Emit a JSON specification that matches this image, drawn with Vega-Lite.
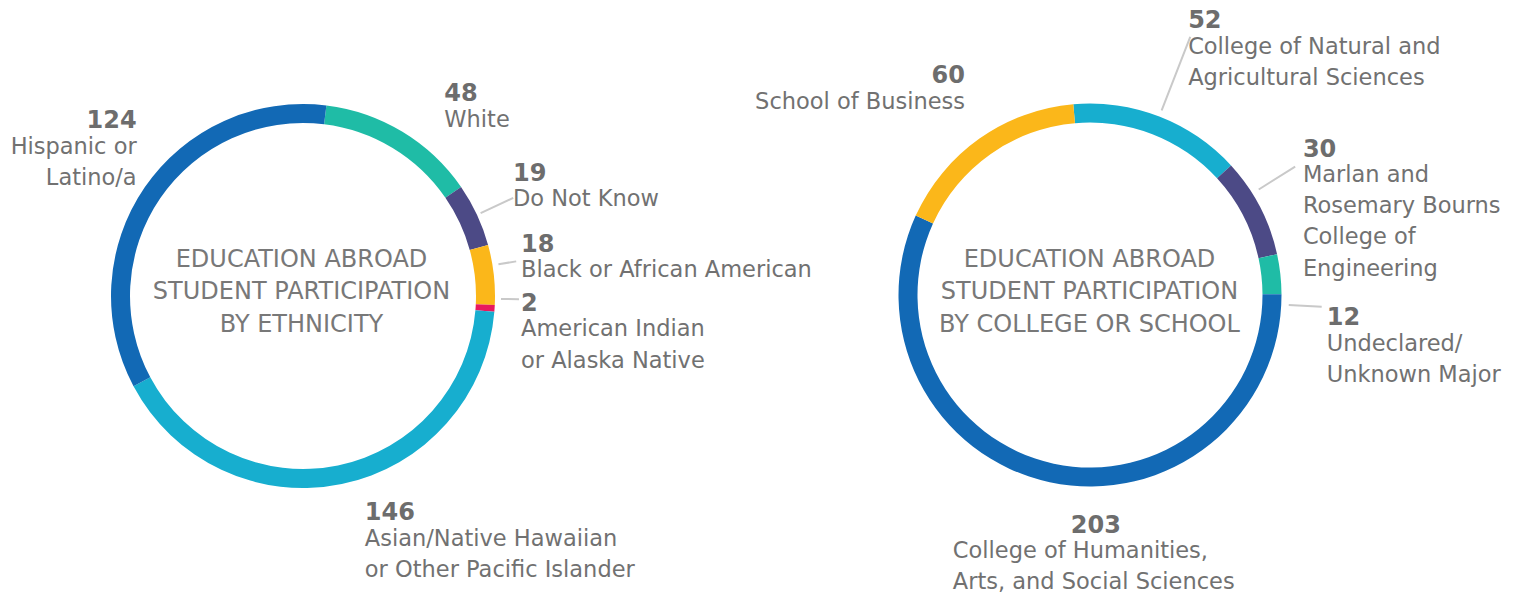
{
  "$schema": "https://vega.github.io/schema/vega-lite/v6.json",
  "padding": 0,
  "background": "white",
  "bounds": "flush",
  "spacing": 54,
  "resolve": {"scale": {"color": "independent", "theta": "independent"}},
  "config": {"view": {"stroke": null}, "text": {"font": "DejaVu Sans"}},
  "hconcat": [
    {
      "width": 606,
      "height": 592,
      "data": {"values": [
        {"cat": "White", "value": 48, "i": 1, "label": "White"},
        {"cat": "Do Not Know", "value": 19, "i": 2, "label": "Do Not Know"},
        {"cat": "Black or African American", "value": 18, "i": 3, "label": "Black or African American"},
        {"cat": "American Indian or Alaska Native", "value": 2, "i": 4, "label": "American Indian\nor Alaska Native"},
        {"cat": "Asian/Native Hawaiian or Other Pacific Islander", "value": 146, "i": 5, "label": "Asian/Native Hawaiian\nor Other Pacific Islander"},
        {"cat": "Hispanic or Latino/a", "value": 124, "i": 6, "label": "Hispanic or\nLatino/a"}
      ]},
      "encoding": {
        "theta": {"field": "value", "type": "quantitative", "stack": true, "scale": {"range": [0.1222, 6.4054]}},
        "order": {"field": "i", "type": "quantitative"},
        "detail": {"field": "cat", "type": "nominal"}
      },
      "layer": [
        {
          "mark": {"type": "arc", "radius": 192, "radius2": 173},
          "encoding": {"color": {"field": "cat", "type": "nominal", "legend": null,
            "scale": {"domain": ["White", "Do Not Know", "Black or African American", "American Indian or Alaska Native", "Asian/Native Hawaiian or Other Pacific Islander", "Hispanic or Latino/a"],
                      "range": ["#1fbca6", "#4c4a86", "#fbb71a", "#e8185d", "#17aecf", "#1269b5"]}}}
        },
        {
          "mark": {"type": "arc", "radius": 232, "radius2": 196, "padAngle": 3, "fillOpacity": 0, "stroke": "#c9c9c9", "strokeWidth": 2},
          "encoding": {"strokeOpacity": {"condition": {"test": "datum.i === 2", "value": 1}, "value": 0}}
        },
        {
          "mark": {"type": "arc", "radius": 216, "radius2": 198, "padAngle": 3, "fillOpacity": 0, "stroke": "#c9c9c9", "strokeWidth": 2, "thetaOffset": -0.05, "theta2Offset": -0.05},
          "encoding": {"strokeOpacity": {"condition": {"test": "datum.i === 3 || datum.i === 4", "value": 1}, "value": 0}}
        },
        {
          "mark": {"type": "text", "radius": 0, "align": "center", "baseline": "alphabetic", "dx": -1.5, "dy": -29.3, "fontSize": 24, "lineHeight": 32.5, "lineBreak": "\n", "color": "#787878"},
          "encoding": {"text": {"condition": {"test": "datum.i === 1", "value": "EDUCATION ABROAD\nSTUDENT PARTICIPATION\nBY ETHNICITY"}, "value": ""}}
        },
        {"mark": {"type": "text", "radius": 240, "align": "left", "baseline": "alphabetic", "dx": 17, "dy": 10.3, "fontSize": 24, "fontWeight": "bold", "color": "#6d6d6d"},
         "encoding": {"text": {"condition": {"test": "datum.i === 1", "field": "value", "type": "nominal"}, "value": ""}}},
        {"mark": {"type": "text", "radius": 240, "align": "left", "baseline": "alphabetic", "dx": 17, "dy": 35.8, "fontSize": 22.5, "lineHeight": 31.5, "lineBreak": "\n", "color": "#717171"},
         "encoding": {"text": {"condition": {"test": "datum.i === 1", "field": "label", "type": "nominal"}, "value": ""}}},
        {"mark": {"type": "text", "radius": 240, "align": "left", "baseline": "alphabetic", "dx": -7.5, "dy": -13.9, "fontSize": 24, "fontWeight": "bold", "color": "#6d6d6d"},
         "encoding": {"text": {"condition": {"test": "datum.i === 2", "field": "value", "type": "nominal"}, "value": ""}}},
        {"mark": {"type": "text", "radius": 240, "align": "left", "baseline": "alphabetic", "dx": -7.5, "dy": 11.6, "fontSize": 22.5, "lineHeight": 31.5, "lineBreak": "\n", "color": "#717171"},
         "encoding": {"text": {"condition": {"test": "datum.i === 2", "field": "label", "type": "nominal"}, "value": ""}}},
        {"mark": {"type": "text", "radius": 225, "align": "left", "baseline": "alphabetic", "dx": -5.6, "dy": -19.2, "fontSize": 24, "fontWeight": "bold", "color": "#6d6d6d"},
         "encoding": {"text": {"condition": {"test": "datum.i === 3", "field": "value", "type": "nominal"}, "value": ""}}},
        {"mark": {"type": "text", "radius": 225, "align": "left", "baseline": "alphabetic", "dx": -5.6, "dy": 6.3, "fontSize": 22.5, "lineHeight": 31.5, "lineBreak": "\n", "color": "#717171"},
         "encoding": {"text": {"condition": {"test": "datum.i === 3", "field": "label", "type": "nominal"}, "value": ""}}},
        {"mark": {"type": "text", "radius": 220, "align": "left", "baseline": "alphabetic", "dx": -1.5, "dy": 0.5, "fontSize": 24, "fontWeight": "bold", "color": "#6d6d6d"},
         "encoding": {"text": {"condition": {"test": "datum.i === 4", "field": "value", "type": "nominal"}, "value": ""}}},
        {"mark": {"type": "text", "radius": 220, "align": "left", "baseline": "alphabetic", "dx": -1.5, "dy": 26, "fontSize": 22.5, "lineHeight": 31.5, "lineBreak": "\n", "color": "#717171"},
         "encoding": {"text": {"condition": {"test": "datum.i === 4", "field": "label", "type": "nominal"}, "value": ""}}},
        {"mark": {"type": "text", "radius": 230, "align": "left", "baseline": "alphabetic", "dx": 15.4, "dy": -1.2, "fontSize": 24, "fontWeight": "bold", "color": "#6d6d6d"},
         "encoding": {"text": {"condition": {"test": "datum.i === 5", "field": "value", "type": "nominal"}, "value": ""}}},
        {"mark": {"type": "text", "radius": 230, "align": "left", "baseline": "alphabetic", "dx": 15.4, "dy": 24.3, "fontSize": 22.5, "lineHeight": 31.5, "lineBreak": "\n", "color": "#717171"},
         "encoding": {"text": {"condition": {"test": "datum.i === 5", "field": "label", "type": "nominal"}, "value": ""}}},
        {"mark": {"type": "text", "radius": 232, "align": "right", "baseline": "alphabetic", "dx": 24.9, "dy": -36.4, "fontSize": 24, "fontWeight": "bold", "color": "#6d6d6d"},
         "encoding": {"text": {"condition": {"test": "datum.i === 6", "field": "value", "type": "nominal"}, "value": ""}}},
        {"mark": {"type": "text", "radius": 232, "align": "right", "baseline": "alphabetic", "dx": 24.9, "dy": -10.9, "fontSize": 22.5, "lineHeight": 31.5, "lineBreak": "\n", "color": "#717171"},
         "encoding": {"text": {"condition": {"test": "datum.i === 6", "field": "label", "type": "nominal"}, "value": ""}}}
      ]
    },
    {
      "width": 860,
      "height": 590,
      "data": {"values": [
        {"cat": "College of Natural and Agricultural Sciences", "value": 52, "i": 1, "label": "College of Natural and\nAgricultural Sciences"},
        {"cat": "Marlan and Rosemary Bourns College of Engineering", "value": 30, "i": 2, "label": "Marlan and\nRosemary Bourns\nCollege of\nEngineering"},
        {"cat": "Undeclared/Unknown Major", "value": 12, "i": 3, "label": "Undeclared/\nUnknown Major"},
        {"cat": "College of Humanities, Arts, and Social Sciences", "value": 203, "i": 4, "label": "College of Humanities,\nArts, and Social Sciences"},
        {"cat": "School of Business", "value": 60, "i": 5, "label": "School of Business"}
      ]},
      "encoding": {
        "theta": {"field": "value", "type": "quantitative", "stack": true, "scale": {"range": [-0.0873, 6.1959]}},
        "order": {"field": "i", "type": "quantitative"},
        "detail": {"field": "cat", "type": "nominal"}
      },
      "layer": [
        {
          "mark": {"type": "arc", "radius": 191.5, "radius2": 172.5},
          "encoding": {"color": {"field": "cat", "type": "nominal", "legend": null,
            "scale": {"domain": ["College of Natural and Agricultural Sciences", "Marlan and Rosemary Bourns College of Engineering", "Undeclared/Unknown Major", "College of Humanities, Arts, and Social Sciences", "School of Business"],
                      "range": ["#17aecf", "#4c4a86", "#1fbca6", "#1269b5", "#fbb71a"]}}}
        },
        {
          "mark": {"type": "arc", "radius": 277, "radius2": 198, "padAngle": 3, "fillOpacity": 0, "stroke": "#c9c9c9", "strokeWidth": 2},
          "encoding": {"strokeOpacity": {"condition": {"test": "datum.i === 1", "value": 1}, "value": 0}}
        },
        {
          "mark": {"type": "arc", "radius": 242, "radius2": 199, "padAngle": 3, "fillOpacity": 0, "stroke": "#c9c9c9", "strokeWidth": 2, "thetaOffset": -0.08, "theta2Offset": -0.08},
          "encoding": {"strokeOpacity": {"condition": {"test": "datum.i === 2", "value": 1}, "value": 0}}
        },
        {
          "mark": {"type": "arc", "radius": 232, "radius2": 199, "padAngle": 3, "fillOpacity": 0, "stroke": "#c9c9c9", "strokeWidth": 2, "thetaOffset": 0.16, "theta2Offset": 0.16},
          "encoding": {"strokeOpacity": {"condition": {"test": "datum.i === 3", "value": 1}, "value": 0}}
        },
        {
          "mark": {"type": "text", "radius": 0, "align": "center", "baseline": "alphabetic", "dx": -0.5, "dy": -28.3, "fontSize": 24, "lineHeight": 32.5, "lineBreak": "\n", "color": "#787878"},
          "encoding": {"text": {"condition": {"test": "datum.i === 1", "value": "EDUCATION ABROAD\nSTUDENT PARTICIPATION\nBY COLLEGE OR SCHOOL"}, "value": ""}}
        },
        {"mark": {"type": "text", "radius": 280, "align": "left", "baseline": "alphabetic", "dx": -3.2, "dy": -5.7, "fontSize": 24, "fontWeight": "bold", "color": "#6d6d6d"},
         "encoding": {"text": {"condition": {"test": "datum.i === 1", "field": "value", "type": "nominal"}, "value": ""}}},
        {"mark": {"type": "text", "radius": 280, "align": "left", "baseline": "alphabetic", "dx": -3.2, "dy": 19.8, "fontSize": 22.5, "lineHeight": 31.5, "lineBreak": "\n", "color": "#717171"},
         "encoding": {"text": {"condition": {"test": "datum.i === 1", "field": "label", "type": "nominal"}, "value": ""}}},
        {"mark": {"type": "text", "radius": 250, "align": "left", "baseline": "alphabetic", "dx": -9, "dy": -23.2, "fontSize": 24, "fontWeight": "bold", "color": "#6d6d6d"},
         "encoding": {"text": {"condition": {"test": "datum.i === 2", "field": "value", "type": "nominal"}, "value": ""}}},
        {"mark": {"type": "text", "radius": 250, "align": "left", "baseline": "alphabetic", "dx": -9, "dy": 2.3, "fontSize": 22.5, "lineHeight": 31.2, "lineBreak": "\n", "color": "#717171"},
         "encoding": {"text": {"condition": {"test": "datum.i === 2", "field": "label", "type": "nominal"}, "value": ""}}},
        {"mark": {"type": "text", "radius": 235, "align": "left", "baseline": "alphabetic", "dx": 3.1, "dy": 55.8, "fontSize": 24, "fontWeight": "bold", "color": "#6d6d6d"},
         "encoding": {"text": {"condition": {"test": "datum.i === 3", "field": "value", "type": "nominal"}, "value": ""}}},
        {"mark": {"type": "text", "radius": 235, "align": "left", "baseline": "alphabetic", "dx": 3.1, "dy": 81.3, "fontSize": 22.5, "lineHeight": 31.5, "lineBreak": "\n", "color": "#717171"},
         "encoding": {"text": {"condition": {"test": "datum.i === 3", "field": "label", "type": "nominal"}, "value": ""}}},
        {"mark": {"type": "text", "radius": 240, "align": "center", "baseline": "alphabetic", "dx": 56.3, "dy": 3.3, "fontSize": 24, "fontWeight": "bold", "color": "#6d6d6d"},
         "encoding": {"text": {"condition": {"test": "datum.i === 4", "field": "value", "type": "nominal"}, "value": ""}}},
        {"mark": {"type": "text", "radius": 240, "align": "left", "baseline": "alphabetic", "dx": -86.7, "dy": 28.6, "fontSize": 22.5, "lineHeight": 30.5, "lineBreak": "\n", "color": "#717171"},
         "encoding": {"text": {"condition": {"test": "datum.i === 4", "field": "label", "type": "nominal"}, "value": ""}}},
        {"mark": {"type": "text", "radius": 250, "align": "right", "baseline": "alphabetic", "dx": 19.3, "dy": -7.5, "fontSize": 24, "fontWeight": "bold", "color": "#6d6d6d"},
         "encoding": {"text": {"condition": {"test": "datum.i === 5", "field": "value", "type": "nominal"}, "value": ""}}},
        {"mark": {"type": "text", "radius": 250, "align": "right", "baseline": "alphabetic", "dx": 19.3, "dy": 18, "fontSize": 22.5, "lineHeight": 31.5, "lineBreak": "\n", "color": "#717171"},
         "encoding": {"text": {"condition": {"test": "datum.i === 5", "field": "label", "type": "nominal"}, "value": ""}}}
      ]
    }
  ]
}
